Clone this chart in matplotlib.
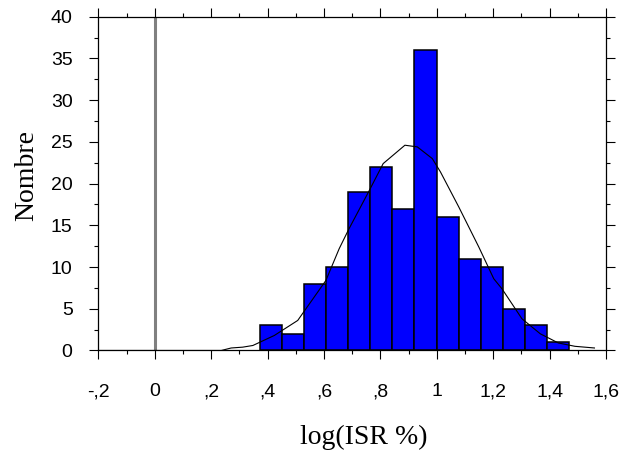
import matplotlib
matplotlib.use('Agg')
import matplotlib.pyplot as plt
from matplotlib.ticker import MultipleLocator
import numpy as np


# histogram of log(ISR %)
bin_edges = [0.373, 0.451, 0.530, 0.608, 0.686, 0.765, 0.843, 0.921,
             1.000, 1.078, 1.156, 1.234, 1.313, 1.391, 1.469]
counts = [3, 2, 8, 10, 19, 22, 17, 36, 16, 11, 10, 5, 3, 1]

# fitted curve
curve_x = [-0.2, 0.236, 0.271, 0.312, 0.348, 0.424, 0.507, 0.607, 0.654, 0.689,
           0.758, 0.810, 0.887, 0.931, 0.984, 1.013, 1.078, 1.149, 1.202, 1.231,
           1.302, 1.367, 1.431, 1.490, 1.559]
curve_y = [0.0, 0.0, 0.3, 0.4, 0.6, 1.8, 3.6, 8.4, 12.2, 14.6,
           19.0, 22.4, 24.6, 24.4, 23.0, 21.4, 17.2, 12.4, 8.6, 7.4,
           3.8, 2.0, 0.9, 0.5, 0.3]

x_ticks = [-0.2, 0, 0.2, 0.4, 0.6, 0.8, 1.0, 1.2, 1.4, 1.6]
x_tick_labels = ['-,2', '0', ',2', ',4', ',6', ',8', '1', '1,2', '1,4', '1,6']
y_ticks = [0, 5, 10, 15, 20, 25, 30, 35, 40]

fig = plt.figure(figsize=(6.31, 4.53), dpi=100)
ax = fig.add_axes([0.1558, 0.2263, 0.8046, 0.7368])

edges = np.array(bin_edges)
ax.bar(edges[:-1], counts, width=np.diff(edges), align='edge',
       color='#0000ff', edgecolor='black', linewidth=1.1, zorder=2)
ax.axvline(0, color='#808080', linewidth=2.2, zorder=1)
ax.plot(curve_x, curve_y, color='black', linewidth=0.8, zorder=3)

ax.set_xlim(-0.2, 1.6)
ax.set_ylim(0, 40)
ax.set_xticks(x_ticks)
ax.set_xticklabels(x_tick_labels)
ax.set_yticks(y_ticks)
ax.xaxis.set_minor_locator(MultipleLocator(0.1))
ax.yaxis.set_minor_locator(MultipleLocator(2.5))

ax.tick_params(which='both', direction='out', top=True, right=True,
               width=0.8, labelsize=14)
ax.tick_params(which='major', length=6.5)
ax.tick_params(which='minor', length=3)
ax.tick_params(axis='x', which='major', pad=17)
ax.tick_params(axis='y', which='major', pad=12)
for lab in ax.get_xticklabels() + ax.get_yticklabels():
    lab.set_family('Liberation Sans')
for sp in ax.spines.values():
    sp.set_linewidth(0.9)

ax.set_xlabel('log(ISR %)', family='Liberation Serif', fontsize=20)
ax.set_ylabel('Nombre', family='Liberation Serif', fontsize=20)
ax.xaxis.set_label_coords(0.523, -0.222)
ax.yaxis.set_label_coords(-0.116, 0.525)

plt.savefig('out.png', dpi=100)
